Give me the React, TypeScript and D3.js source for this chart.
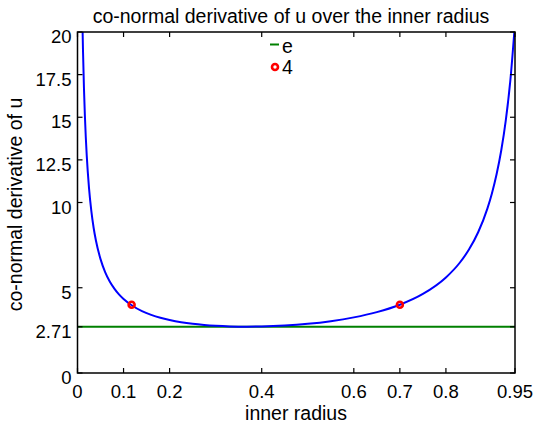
import React from "react";
import * as d3 from "d3";

const curveX = [0.01, 0.011, 0.012, 0.014, 0.016, 0.018, 0.02, 0.025, 0.03, 0.035, 0.04, 0.05, 0.06, 0.07, 0.08, 0.09, 0.1, 0.12, 0.14, 0.16, 0.18, 0.2, 0.225, 0.25, 0.275, 0.3, 0.33, 0.3679, 0.4, 0.45, 0.5, 0.55, 0.6, 0.65, 0.7, 0.75, 0.8, 0.83, 0.85, 0.87, 0.89, 0.9, 0.91, 0.92, 0.93, 0.94, 0.95];
const curveY = [21.71, 20.16, 18.84, 16.73, 15.11, 13.83, 12.78, 10.84, 9.51, 8.52, 7.77, 6.68, 5.92, 5.37, 4.95, 4.61, 4.34, 3.93, 3.63, 3.41, 3.24, 3.11, 2.98, 2.885, 2.817, 2.769, 2.733, 2.718, 2.728, 2.783, 2.885, 3.041, 3.263, 3.571, 4.005, 4.635, 5.602, 6.466, 7.239, 8.254, 9.642, 10.546, 11.652, 13.036, 14.817, 17.191, 20.52];
const eLevel = 2.718;
const markerX = [0.1175, 0.7];
const markerY = [4, 4];
const xTicks = [0, 0.1, 0.2, 0.4, 0.6, 0.7, 0.8, 0.95];
const xTickLabels = ["0", "0.1", "0.2", "0.4", "0.6", "0.7", "0.8", "0.95"];
const yTicks = [0, 2.71, 5, 10, 12.5, 15, 17.5, 20];
const yTickLabels = ["0", "2.71", "5", "10", "12.5", "15", "17.5", "20"];
const legendLabels = ["e", "4"];

export default function App() {
  const W = 535, H = 428;
  const L = 77.5, R = 515, T = 32, B = 373;
  const x = d3.scaleLinear().domain([0, 0.95]).range([L, R]);
  const y = d3.scaleLinear().domain([0, 20]).range([B, T]);
  const pts = curveX.map((v, i) => [v, curveY[i]] as [number, number]);
  const line = d3.line<[number, number]>().x(d => x(d[0])).y(d => y(d[1])).curve(d3.curveMonotoneX);
  const font = "'Liberation Sans', Arial, sans-serif";
  const tl = 5;
  const tf = 18.5;
  const lf = 19.5;
  return (
    <svg width={W} height={H} style={{ position: "absolute", left: 0, top: 0, background: "#fff" }} fontFamily={font}>
      <defs>
        <clipPath id="pc"><rect x={L} y={T} width={R - L} height={B - T} /></clipPath>
      </defs>
      <rect x={0} y={0} width={W} height={H} fill="#fff" />
      <g clipPath="url(#pc)">
        <line x1={L} x2={R} y1={y(eLevel)} y2={y(eLevel)} stroke="#008000" strokeWidth={2} />
        <path d={line(pts) || ""} fill="none" stroke="#0000ff" strokeWidth={2} />
      </g>
      {markerX.map((mx, i) => (
        <circle key={i} cx={x(mx)} cy={y(markerY[i])} r={3} fill="none" stroke="#ff0000" strokeWidth={2.6} />
      ))}
      <rect x={L} y={T} width={R - L} height={B - T} fill="none" stroke="#000" strokeWidth={1.5} />
      {xTicks.map((t, i) => (
        <g key={"x" + i}>
          <line x1={x(t)} x2={x(t)} y1={B} y2={B - tl} stroke="#000" strokeWidth={1.2} />
          <line x1={x(t)} x2={x(t)} y1={T} y2={T + tl} stroke="#000" strokeWidth={1.2} />
          <text x={x(t)} y={B + 25} textAnchor="middle" fontSize={tf} fill="#000">{xTickLabels[i]}</text>
        </g>
      ))}
      {yTicks.map((t, i) => (
        <g key={"y" + i}>
          <line x1={L} x2={L + tl} y1={y(t)} y2={y(t)} stroke="#000" strokeWidth={1.2} />
          <line x1={R} x2={R - tl} y1={y(t)} y2={y(t)} stroke="#000" strokeWidth={1.2} />
          <text x={L - 6} y={y(t) + 11} textAnchor="end" fontSize={tf} fill="#000">{yTickLabels[i]}</text>
        </g>
      ))}
      <text x={291} y={23} textAnchor="middle" fontSize={lf} fill="#000">co-normal derivative of u over the inner radius</text>
      <text x={296} y={420} textAnchor="middle" fontSize={lf} fill="#000">inner radius</text>
      <text transform={`translate(22,${204.5}) rotate(-90)`} textAnchor="middle" fontSize={lf} fill="#000">co-normal derivative of u</text>
      <line x1={270} x2={279} y1={44.5} y2={44.5} stroke="#008000" strokeWidth={2} />
      <text x={282} y={53} fontSize={lf} fill="#000">{legendLabels[0]}</text>
      <circle cx={275} cy={67} r={3} fill="none" stroke="#ff0000" strokeWidth={2.6} />
      <text x={282} y={74} fontSize={lf} fill="#000">{legendLabels[1]}</text>
    </svg>
  );
}
